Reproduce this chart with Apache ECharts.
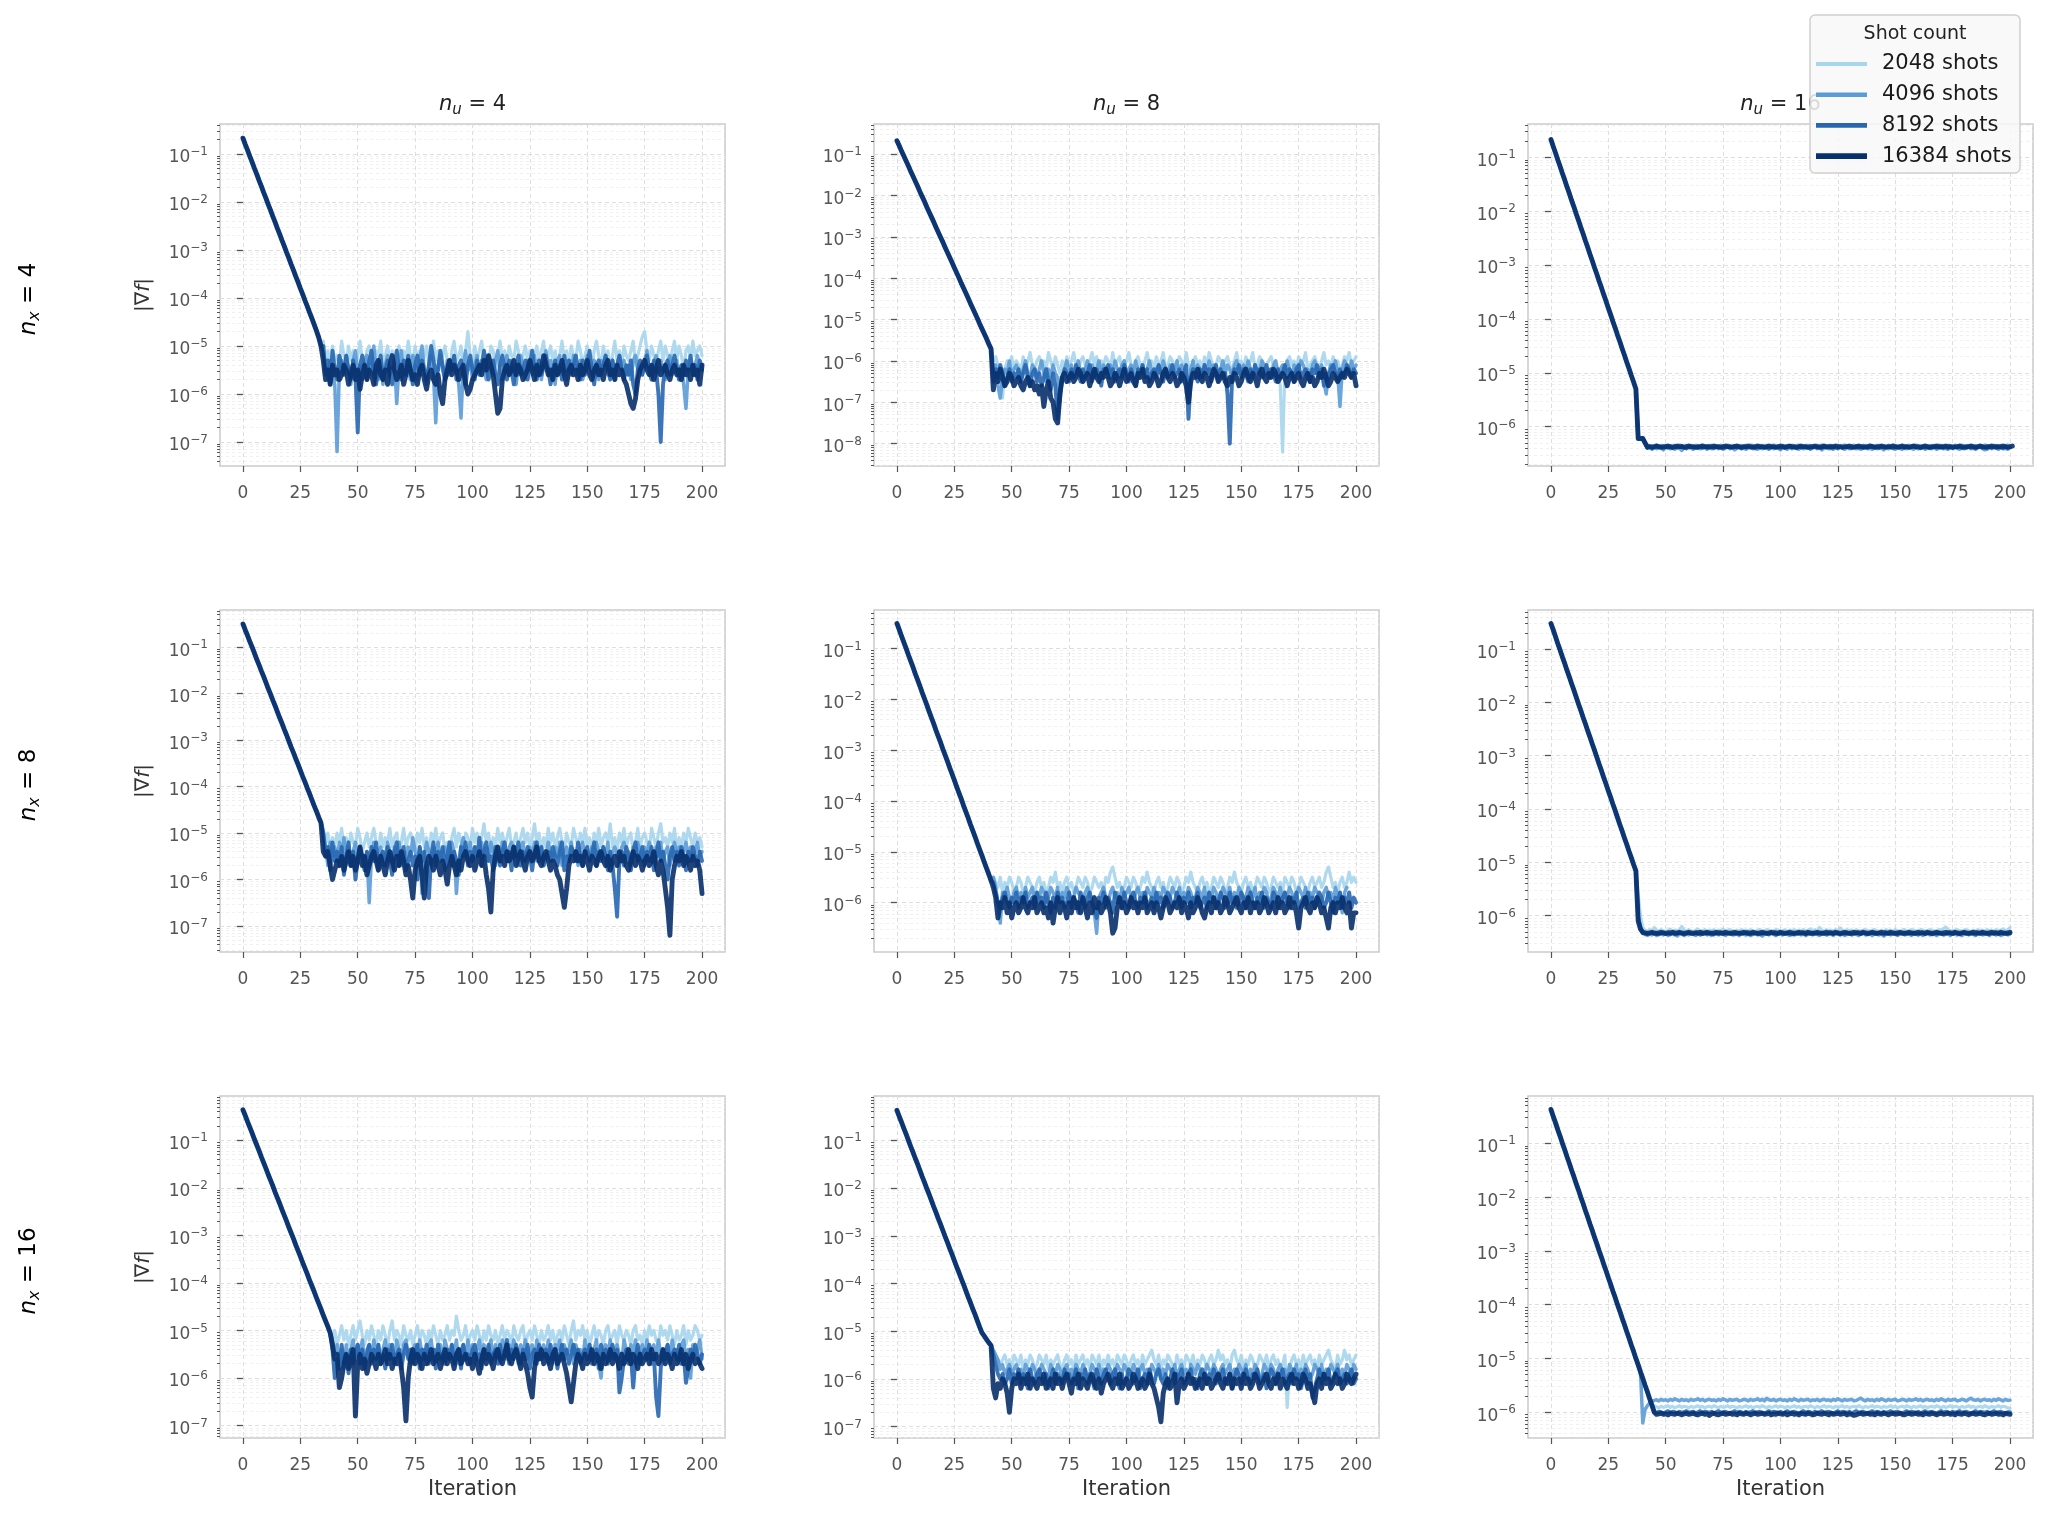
<!DOCTYPE html>
<html><head><meta charset="utf-8">
<script src="https://cdn.jsdelivr.net/npm/echarts@6/dist/echarts.min.js"></script>
<style>html,body{margin:0;padding:0;background:#fff}#chart{width:2046px;height:1513px}</style>
</head><body><div id="chart"></div>
<script>
// ---------------- labels ----------------
const iterationTicks = [0,25,50,75,100,125,150,175,200];
const shotLabels = ['2048 shots','4096 shots','8192 shots','16384 shots'];
const nuLabels = ['4','8','16'];
const nxLabels = ['4','8','16'];

// ---------------- data: log10(|grad f|) ----------------
// descent arrays: hundredths of a decade, iteration 0..len-1 (shared by all shot counts)
const d11 = [-67,-80,-92,-105,-117,-130,-142,-155,-167,-180,-192,-205,-217,-230,-242,-255,-267,-280,-292,-305,-317,-330,-342,-355,-367,-380,-392,-405,-417,-430,-442,-455,-468,-482,-500];
const d12 = [-68,-80,-93,-105,-117,-129,-142,-154,-166,-178,-191,-203,-215,-228,-240,-252,-264,-277,-289,-301,-313,-326,-338,-350,-362,-375,-387,-399,-412,-424,-436,-448,-461,-473,-485,-497,-510,-522,-534,-546,-559,-571];
const d13 = [-67,-80,-92,-105,-117,-130,-142,-155,-167,-180,-192,-205,-217,-230,-242,-255,-267,-280,-292,-305,-317,-330,-342,-355,-367,-380,-392,-405,-417,-430,-442,-455,-467,-480,-492,-505,-517,-530,-622,-622,-622,-630];
const d21 = [-50,-63,-75,-88,-100,-113,-126,-138,-151,-163,-176,-189,-201,-214,-226,-239,-252,-264,-277,-289,-302,-315,-327,-340,-352,-365,-378,-390,-403,-415,-428,-441,-453,-466,-478];
const d22 = [-51,-63,-76,-88,-100,-113,-125,-137,-150,-162,-174,-187,-199,-211,-224,-236,-248,-261,-273,-285,-298,-310,-322,-335,-347,-359,-372,-384,-396,-409,-421,-433,-446,-458,-470,-483,-495,-507,-520,-532,-544,-557];
const d23 = [-52,-64,-77,-90,-102,-115,-127,-140,-152,-165,-177,-190,-203,-215,-228,-240,-253,-265,-278,-290,-303,-316,-328,-341,-353,-366,-378,-391,-403,-416,-429,-441,-454,-466,-479,-491,-504,-516];
const d31 = [-36,-48,-61,-73,-85,-98,-110,-122,-135,-147,-159,-172,-184,-196,-209,-221,-233,-246,-258,-270,-283,-295,-307,-320,-332,-344,-357,-369,-381,-394,-406,-418,-431,-443,-455,-468,-480,-492,-505];
const d32 = [-37,-50,-62,-75,-87,-100,-113,-125,-138,-150,-163,-176,-188,-201,-213,-226,-239,-251,-264,-276,-289,-302,-314,-327,-339,-352,-365,-377,-390,-402,-415,-428,-440,-453,-465,-478,-491,-503,-510,-517,-524,-530];
const d33 = [-37,-50,-62,-75,-87,-100,-112,-125,-137,-150,-162,-175,-187,-200,-212,-225,-237,-250,-262,-275,-287,-300,-312,-325,-337,-350,-362,-375,-387,-400,-412,-425,-437,-450,-462,-475,-487,-500,-512,-525];

// tails (n_u = 4, 8 panels: tenths of a decade; n_u = 16 panels: hundredths)
const t11_2048 = [-49,-53,-51,-55,-50,-53,-52,-54,-49,-52,-54,-50,-53,-51,-55,-52,-49,-53,-54,-51,-50,-53,-55,-51,-52,-49,-54,-52,-50,-53,-51,-55,-52,-50,-54,-51,-53,-49,-52,-54,-50,-53,-51,-55,-52,-50,-54,-52,-49,-53,-51,-54,-52,-50,-53,-56,-51,-49,-53,-52,-50,-54,-51,-47,-52,-55,-50,-53,-51,-49,-53,-52,-54,-50,-51,-55,-52,-49,-53,-51,-54,-50,-52,-53,-49,-51,-54,-52,-50,-53,-51,-55,-52,-50,-53,-51,-49,-54,-52,-50,-53,-51,-55,-52,-49,-53,-51,-54,-50,-52,-53,-49,-51,-54,-52,-50,-53,-55,-51,-49,-52,-54,-50,-53,-51,-55,-52,-49,-53,-51,-54,-50,-52,-53,-51,-49,-54,-52,-50,-48,-47,-51,-53,-50,-52,-54,-51,-49,-53,-50,-52,-54,-51,-49,-53,-50,-52,-55,-51,-50,-53,-49,-52,-51,-50,-52];
const t11_4096 = [-51,-54,-57,-53,-56,-58,-72,-55,-53,-56,-52,-55,-58,-53,-51,-56,-54,-57,-53,-52,-56,-54,-50,-55,-57,-53,-58,-54,-52,-56,-55,-53,-62,-54,-51,-56,-53,-55,-57,-52,-54,-57,-53,-50,-55,-58,-54,-52,-56,-66,-54,-52,-55,-57,-53,-56,-54,-52,-55,-58,-65,-54,-51,-55,-53,-57,-54,-52,-56,-53,-55,-57,-52,-54,-56,-53,-51,-55,-57,-54,-52,-56,-53,-55,-58,-54,-52,-55,-57,-53,-54,-56,-52,-55,-53,-57,-54,-51,-56,-53,-55,-58,-53,-52,-56,-54,-57,-53,-55,-52,-56,-54,-53,-57,-55,-52,-54,-56,-53,-55,-57,-53,-54,-52,-56,-55,-53,-57,-54,-52,-55,-53,-56,-54,-57,-53,-52,-55,-54,-56,-53,-51,-55,-57,-54,-52,-56,-53,-55,-57,-54,-52,-56,-55,-53,-57,-54,-58,-63,-55,-53,-56,-54,-52,-55,-54];
const t11_8192 = [-50,-56,-53,-58,-51,-55,-57,-52,-54,-56,-52,-55,-57,-53,-56,-68,-54,-52,-55,-57,-53,-51,-56,-58,-54,-52,-57,-55,-53,-56,-58,-54,-51,-55,-57,-53,-56,-52,-55,-58,-54,-52,-56,-53,-55,-57,-54,-50,-53,-56,-55,-51,-54,-57,-56,-53,-55,-52,-57,-54,-53,-56,-58,-54,-52,-55,-57,-53,-56,-54,-51,-54,-57,-55,-53,-56,-58,-54,-52,-55,-57,-53,-55,-58,-54,-52,-56,-55,-53,-57,-54,-51,-55,-57,-53,-56,-54,-52,-55,-58,-55,-53,-56,-54,-57,-52,-55,-53,-56,-54,-52,-55,-57,-53,-56,-54,-51,-55,-58,-54,-53,-56,-54,-52,-55,-57,-53,-56,-54,-52,-55,-57,-54,-56,-53,-58,-60,-55,-53,-56,-54,-52,-55,-57,-53,-55,-60,-70,-58,-54,-53,-56,-54,-52,-55,-57,-54,-56,-53,-55,-52,-56,-54,-57,-53,-55];
const t11_16384 = [-53,-57,-55,-58,-54,-56,-55,-57,-56,-54,-55,-58,-56,-54,-57,-55,-59,-56,-54,-57,-55,-56,-58,-54,-53,-56,-57,-55,-58,-54,-52,-55,-57,-56,-54,-58,-56,-53,-55,-57,-56,-58,-55,-54,-57,-59,-56,-55,-57,-58,-56,-60,-62,-57,-55,-53,-56,-54,-55,-57,-55,-54,-58,-60,-59,-57,-56,-55,-54,-56,-53,-55,-52,-54,-56,-60,-64,-63,-57,-55,-54,-56,-55,-53,-56,-54,-55,-57,-56,-55,-53,-55,-57,-54,-56,-55,-52,-54,-56,-55,-57,-54,-56,-55,-53,-56,-58,-55,-54,-56,-55,-57,-54,-56,-55,-53,-56,-57,-55,-54,-56,-55,-57,-54,-53,-56,-55,-57,-54,-56,-55,-57,-58,-60,-62,-63,-61,-57,-55,-54,-53,-55,-56,-54,-57,-55,-53,-56,-55,-54,-56,-57,-55,-54,-56,-55,-57,-54,-56,-55,-57,-54,-56,-55,-58,-54];

const t12_2048 = [-60,-59,-61,-63,-69,-62,-60,-61,-59,-62,-60,-61,-63,-59,-62,-60,-58,-61,-62,-60,-59,-61,-60,-62,-58,-60,-62,-59,-61,-63,-60,-62,-59,-61,-60,-58,-61,-63,-60,-59,-61,-62,-60,-58,-61,-59,-62,-60,-61,-59,-60,-62,-58,-61,-60,-59,-62,-61,-60,-58,-61,-63,-60,-59,-61,-62,-60,-58,-61,-60,-62,-59,-61,-60,-58,-62,-61,-59,-60,-62,-61,-59,-60,-62,-58,-61,-63,-60,-59,-61,-60,-62,-59,-61,-58,-60,-62,-61,-59,-60,-62,-60,-59,-61,-63,-60,-58,-61,-60,-62,-59,-61,-60,-58,-62,-61,-59,-60,-62,-61,-60,-59,-61,-62,-63,-66,-82,-62,-60,-59,-61,-60,-62,-59,-61,-60,-58,-62,-61,-60,-59,-61,-62,-60,-58,-61,-60,-62,-59,-61,-60,-62,-61,-59,-60,-58,-61,-60,-59];
const t12_4096 = [-63,-61,-66,-69,-64,-62,-63,-60,-64,-62,-61,-63,-65,-62,-60,-63,-64,-61,-62,-64,-62,-60,-63,-65,-62,-64,-61,-63,-64,-70,-64,-62,-60,-63,-61,-64,-62,-60,-63,-65,-62,-60,-63,-61,-64,-62,-60,-63,-61,-62,-64,-61,-63,-60,-62,-64,-61,-60,-63,-62,-61,-63,-60,-62,-64,-61,-63,-62,-60,-63,-64,-62,-61,-63,-60,-62,-64,-61,-63,-62,-60,-63,-61,-62,-64,-66,-62,-60,-63,-61,-62,-64,-61,-63,-60,-62,-61,-63,-65,-62,-60,-63,-61,-62,-64,-61,-60,-63,-62,-61,-63,-60,-62,-64,-61,-63,-62,-60,-61,-63,-62,-64,-61,-60,-63,-62,-61,-63,-60,-62,-64,-61,-63,-62,-60,-61,-63,-62,-64,-61,-60,-63,-62,-61,-65,-68,-63,-61,-62,-60,-63,-71,-62,-60,-61,-63,-60,-62,-61];
const t12_8192 = [-65,-62,-64,-61,-63,-66,-64,-62,-65,-63,-64,-62,-65,-63,-61,-64,-66,-63,-62,-65,-63,-66,-64,-62,-65,-67,-63,-66,-74,-68,-64,-62,-63,-65,-62,-64,-61,-63,-65,-62,-64,-63,-61,-65,-63,-62,-64,-66,-62,-63,-61,-64,-62,-65,-63,-62,-64,-61,-63,-65,-62,-64,-66,-62,-63,-61,-64,-62,-65,-63,-62,-64,-61,-63,-65,-62,-64,-63,-61,-64,-63,-62,-65,-63,-61,-74,-64,-62,-63,-65,-62,-64,-61,-63,-62,-65,-63,-61,-64,-62,-64,-63,-68,-80,-64,-62,-63,-61,-64,-62,-63,-65,-62,-64,-61,-63,-62,-64,-63,-61,-64,-62,-63,-65,-62,-64,-63,-61,-64,-62,-63,-65,-62,-61,-64,-63,-62,-64,-65,-62,-63,-61,-64,-62,-66,-63,-64,-62,-61,-63,-65,-62,-64,-63,-61,-62,-64,-62,-63];
const t12_16384 = [-67,-63,-65,-62,-64,-66,-65,-63,-64,-66,-65,-64,-66,-67,-65,-64,-66,-65,-67,-66,-68,-66,-71,-67,-65,-69,-70,-74,-75,-68,-64,-63,-65,-64,-63,-65,-64,-62,-63,-65,-64,-63,-66,-64,-62,-64,-65,-63,-64,-62,-64,-66,-65,-63,-64,-66,-64,-62,-65,-64,-63,-65,-66,-63,-64,-62,-65,-64,-66,-65,-63,-64,-66,-65,-63,-62,-64,-65,-63,-64,-66,-65,-63,-64,-66,-70,-65,-63,-64,-62,-64,-65,-63,-64,-66,-64,-62,-63,-65,-64,-63,-65,-66,-64,-65,-63,-64,-66,-65,-63,-62,-64,-65,-63,-64,-66,-63,-62,-64,-65,-63,-64,-62,-63,-65,-64,-63,-64,-66,-64,-63,-65,-64,-63,-65,-66,-64,-63,-65,-64,-66,-65,-63,-64,-62,-64,-66,-65,-63,-64,-65,-64,-63,-64,-62,-63,-64,-63,-66];

const t13_2048 = [-634,-636,-635,-637,-633,-636,-635,-637,-634,-636,-635,-637,-634,-636,-633,-635,-637,-636,-634,-635,-637,-634,-636,-635,-633,-636,-637,-635,-634,-636,-635,-637,-634,-636,-635,-633,-636,-637,-635,-634,-636,-635,-637,-634,-636,-633,-635,-637,-636,-634,-635,-637,-634,-636,-635,-633,-636,-637,-635,-634,-636,-635,-637,-634,-636,-635,-633,-636,-637,-635,-634,-636,-635,-637,-634,-636,-633,-635,-637,-636,-634,-635,-637,-634,-636,-635,-633,-636,-637,-635,-634,-636,-635,-637,-634,-636,-635,-633,-636,-637,-635,-634,-636,-635,-637,-634,-636,-633,-635,-637,-636,-634,-635,-637,-634,-636,-635,-633,-636,-637,-635,-634,-636,-635,-637,-634,-636,-633,-635,-637,-636,-634,-635,-637,-634,-636,-635,-633,-636,-637,-635,-634,-636,-635,-637,-634,-636,-633,-635,-637,-636,-634,-635,-637,-634,-636,-635,-633,-636];
const t13_4096 = [-640,-638,-642,-639,-641,-637,-640,-643,-639,-638,-641,-639,-642,-638,-640,-644,-639,-641,-638,-640,-642,-639,-637,-641,-640,-638,-642,-639,-641,-640,-638,-641,-639,-642,-640,-637,-641,-639,-643,-640,-638,-641,-640,-642,-639,-638,-641,-640,-642,-639,-641,-638,-640,-642,-639,-641,-638,-640,-643,-639,-640,-642,-638,-641,-639,-640,-642,-638,-641,-640,-639,-642,-640,-638,-641,-639,-643,-640,-638,-641,-640,-642,-639,-641,-638,-640,-642,-639,-641,-640,-638,-641,-640,-642,-639,-638,-641,-640,-642,-639,-641,-638,-640,-643,-639,-641,-638,-640,-642,-639,-640,-642,-638,-641,-639,-640,-642,-638,-641,-640,-639,-642,-640,-638,-641,-639,-642,-640,-638,-641,-640,-642,-639,-641,-638,-640,-642,-639,-641,-640,-638,-641,-640,-642,-639,-638,-641,-643,-642,-639,-641,-638,-640,-642,-639,-641,-640,-642,-639];
const t13_8192 = [-639,-637,-640,-638,-636,-639,-638,-640,-637,-639,-638,-640,-637,-639,-638,-636,-639,-640,-638,-637,-639,-638,-640,-637,-639,-638,-636,-639,-638,-640,-637,-639,-638,-640,-638,-637,-639,-638,-636,-639,-638,-640,-637,-639,-638,-639,-637,-640,-638,-639,-637,-639,-638,-640,-638,-637,-639,-638,-640,-637,-639,-638,-636,-639,-638,-640,-637,-639,-638,-637,-639,-640,-638,-637,-639,-638,-640,-637,-639,-638,-636,-639,-638,-640,-637,-639,-638,-637,-639,-640,-638,-637,-639,-638,-640,-637,-639,-638,-636,-639,-638,-640,-637,-639,-638,-637,-639,-640,-638,-637,-639,-638,-640,-637,-639,-638,-636,-639,-638,-640,-637,-639,-638,-640,-638,-637,-639,-638,-636,-639,-638,-640,-637,-639,-638,-639,-637,-640,-638,-639,-637,-639,-638,-640,-638,-637,-639,-638,-640,-637,-639,-638,-636,-639,-638,-640,-637,-639,-638];
const t13_16384 = [-638,-637,-638,-637,-636,-637,-638,-637,-637,-636,-637,-638,-637,-636,-637,-637,-638,-637,-636,-637,-637,-638,-637,-637,-636,-637,-638,-637,-637,-636,-637,-637,-638,-637,-636,-637,-637,-638,-637,-636,-637,-638,-637,-637,-636,-637,-638,-637,-636,-637,-637,-638,-637,-636,-637,-637,-638,-637,-636,-637,-638,-637,-636,-637,-637,-638,-637,-636,-637,-637,-638,-637,-637,-636,-637,-638,-637,-636,-637,-637,-638,-637,-636,-637,-637,-638,-637,-637,-636,-637,-638,-637,-636,-637,-637,-638,-637,-636,-637,-638,-637,-637,-636,-637,-638,-637,-637,-636,-637,-638,-637,-636,-637,-637,-638,-637,-636,-637,-637,-638,-637,-636,-637,-638,-637,-637,-636,-637,-638,-637,-636,-637,-637,-638,-637,-637,-636,-637,-638,-637,-637,-636,-637,-638,-637,-636,-637,-638,-637,-637,-636,-637,-638,-637,-637,-636,-637,-638,-637,-636];

const t21_2048 = [-49,-52,-50,-54,-51,-53,-50,-52,-49,-53,-51,-54,-50,-52,-53,-49,-51,-54,-52,-50,-53,-51,-49,-52,-54,-50,-53,-51,-52,-49,-53,-51,-50,-54,-52,-49,-53,-51,-50,-52,-54,-50,-52,-49,-53,-51,-55,-50,-52,-49,-53,-51,-50,-54,-52,-56,-51,-49,-53,-50,-52,-54,-50,-51,-53,-49,-52,-50,-53,-51,-48,-52,-50,-54,-51,-53,-49,-52,-50,-53,-51,-49,-53,-52,-50,-54,-51,-49,-52,-50,-53,-51,-48,-52,-50,-54,-51,-53,-49,-52,-50,-53,-51,-49,-52,-54,-50,-52,-53,-49,-51,-53,-50,-52,-49,-53,-51,-54,-50,-52,-49,-53,-51,-50,-52,-48,-53,-51,-54,-50,-52,-49,-53,-51,-50,-54,-52,-49,-53,-51,-50,-52,-54,-49,-51,-53,-50,-48,-52,-51,-53,-50,-52,-49,-54,-51,-53,-50,-52,-49,-51,-53,-50,-52,-51,-53];
const t21_4096 = [-50,-53,-57,-52,-55,-53,-56,-52,-54,-51,-55,-53,-57,-54,-52,-56,-53,-55,-58,-54,-65,-55,-52,-56,-54,-53,-57,-55,-52,-54,-56,-53,-55,-52,-57,-54,-56,-53,-55,-51,-54,-56,-53,-63,-55,-52,-54,-57,-53,-55,-52,-56,-54,-53,-57,-55,-52,-54,-63,-56,-53,-51,-55,-54,-52,-56,-53,-55,-54,-52,-55,-53,-56,-52,-54,-57,-53,-55,-52,-54,-56,-53,-52,-55,-54,-57,-53,-52,-56,-54,-53,-55,-52,-56,-54,-53,-57,-55,-52,-54,-56,-53,-55,-52,-57,-54,-53,-56,-52,-55,-54,-57,-53,-52,-55,-54,-56,-53,-55,-52,-54,-56,-53,-55,-52,-57,-54,-53,-55,-56,-53,-52,-55,-54,-57,-53,-55,-52,-54,-56,-53,-55,-52,-54,-57,-53,-55,-52,-56,-54,-53,-57,-54,-52,-55,-53,-56,-54,-52,-55,-53,-56,-54,-52,-55,-54];
const t21_8192 = [-50,-55,-53,-58,-52,-56,-54,-57,-53,-59,-55,-52,-57,-54,-60,-56,-53,-55,-58,-54,-57,-53,-56,-52,-58,-55,-54,-57,-53,-56,-59,-54,-52,-57,-55,-53,-58,-56,-54,-57,-55,-60,-53,-56,-54,-58,-64,-55,-52,-57,-54,-56,-53,-58,-55,-52,-57,-54,-56,-59,-53,-55,-52,-57,-54,-56,-53,-55,-51,-57,-54,-52,-56,-55,-58,-53,-55,-57,-54,-52,-56,-54,-58,-53,-55,-52,-57,-54,-56,-53,-55,-58,-54,-52,-56,-53,-57,-55,-54,-56,-53,-55,-57,-54,-52,-58,-55,-56,-53,-54,-56,-52,-55,-57,-54,-53,-56,-55,-52,-57,-54,-56,-53,-55,-58,-54,-57,-62,-68,-56,-54,-57,-53,-55,-58,-54,-52,-56,-55,-53,-57,-54,-56,-53,-58,-55,-52,-56,-54,-57,-60,-55,-53,-56,-54,-57,-53,-55,-58,-54,-56,-53,-55,-57,-54,-56];
const t21_16384 = [-54,-55,-54,-57,-60,-58,-56,-57,-55,-58,-56,-54,-57,-55,-58,-56,-53,-57,-55,-59,-57,-55,-54,-56,-58,-55,-57,-59,-56,-54,-56,-58,-55,-57,-54,-56,-59,-57,-60,-64,-58,-56,-55,-59,-64,-57,-55,-56,-58,-55,-57,-59,-56,-58,-61,-57,-55,-57,-59,-56,-58,-55,-54,-56,-57,-55,-58,-56,-54,-57,-55,-59,-62,-67,-58,-55,-53,-56,-55,-57,-54,-56,-55,-53,-57,-55,-54,-56,-58,-55,-54,-56,-55,-53,-56,-57,-55,-54,-56,-58,-56,-57,-59,-60,-63,-66,-62,-57,-55,-56,-54,-56,-55,-57,-54,-56,-58,-55,-56,-57,-55,-54,-56,-57,-55,-58,-56,-55,-57,-54,-56,-55,-57,-58,-56,-54,-57,-55,-56,-58,-56,-55,-57,-56,-54,-57,-59,-56,-58,-62,-66,-72,-60,-57,-55,-56,-54,-57,-55,-56,-58,-55,-57,-56,-58,-63];

const t22_2048 = [-55,-56,-57,-55,-58,-56,-57,-55,-56,-58,-57,-55,-56,-58,-57,-55,-56,-57,-58,-56,-55,-57,-56,-58,-57,-55,-56,-54,-57,-56,-58,-56,-55,-57,-56,-58,-57,-55,-56,-57,-55,-56,-58,-57,-55,-56,-57,-56,-58,-55,-56,-54,-53,-55,-57,-56,-58,-57,-55,-56,-57,-55,-56,-58,-57,-55,-56,-54,-56,-57,-58,-56,-55,-57,-56,-58,-57,-55,-56,-57,-55,-56,-58,-57,-55,-56,-54,-56,-57,-58,-56,-55,-57,-56,-58,-57,-55,-56,-57,-55,-56,-58,-57,-55,-56,-54,-56,-57,-58,-56,-55,-57,-56,-58,-57,-55,-56,-57,-55,-56,-58,-57,-55,-56,-57,-56,-58,-55,-56,-57,-55,-56,-58,-57,-55,-56,-57,-58,-56,-55,-57,-56,-55,-57,-56,-54,-53,-55,-57,-56,-58,-56,-55,-57,-56,-54,-56,-55,-56];
const t22_4096 = [-55,-57,-60,-64,-58,-59,-57,-59,-60,-58,-57,-59,-58,-60,-57,-59,-58,-57,-60,-58,-59,-57,-58,-60,-59,-57,-58,-59,-57,-60,-58,-59,-57,-58,-60,-59,-57,-58,-59,-60,-58,-57,-59,-60,-62,-66,-59,-58,-57,-59,-60,-58,-57,-59,-58,-60,-57,-59,-58,-57,-59,-60,-58,-57,-59,-58,-60,-57,-58,-59,-57,-60,-58,-59,-57,-58,-60,-59,-57,-58,-59,-57,-60,-58,-59,-57,-58,-60,-59,-57,-58,-59,-57,-60,-58,-59,-57,-58,-60,-59,-57,-58,-59,-57,-60,-58,-59,-57,-58,-60,-59,-57,-58,-59,-57,-60,-58,-59,-57,-58,-60,-59,-57,-58,-59,-57,-60,-58,-59,-57,-58,-60,-59,-57,-58,-59,-57,-60,-58,-59,-57,-58,-59,-60,-58,-57,-59,-58,-60,-57,-59,-58,-62,-58,-57];
const t22_8192 = [-56,-58,-60,-61,-59,-58,-60,-61,-59,-60,-58,-61,-59,-60,-58,-61,-60,-59,-61,-58,-60,-59,-61,-58,-60,-62,-59,-61,-58,-60,-59,-61,-60,-58,-61,-59,-60,-62,-58,-60,-61,-59,-58,-60,-61,-63,-59,-60,-58,-61,-59,-60,-62,-58,-60,-59,-61,-58,-60,-61,-59,-58,-60,-61,-59,-60,-58,-61,-60,-59,-61,-58,-60,-59,-61,-60,-58,-59,-61,-60,-58,-60,-61,-59,-60,-58,-61,-59,-60,-58,-61,-60,-59,-61,-58,-60,-59,-61,-60,-58,-59,-61,-60,-58,-60,-59,-61,-60,-58,-59,-61,-60,-58,-60,-61,-59,-60,-58,-61,-59,-60,-61,-58,-59,-61,-60,-59,-58,-60,-61,-59,-60,-58,-61,-60,-59,-61,-58,-60,-59,-61,-60,-58,-59,-61,-60,-58,-60,-62,-59,-60,-58,-61,-59,-60,-58,-61,-59,-60];
const t22_16384 = [-57,-59,-63,-60,-61,-59,-62,-60,-63,-61,-60,-62,-61,-59,-61,-62,-60,-61,-59,-62,-61,-60,-62,-61,-63,-60,-64,-61,-59,-62,-60,-61,-63,-60,-62,-59,-61,-60,-62,-59,-61,-63,-60,-62,-59,-61,-60,-62,-61,-59,-60,-62,-66,-65,-61,-59,-61,-60,-62,-61,-59,-61,-60,-62,-60,-61,-59,-62,-61,-60,-62,-60,-61,-63,-61,-59,-60,-62,-61,-60,-61,-59,-62,-60,-61,-63,-60,-62,-61,-59,-60,-62,-63,-61,-60,-62,-59,-61,-60,-62,-61,-59,-60,-62,-61,-60,-59,-61,-62,-60,-61,-59,-62,-60,-61,-60,-62,-61,-59,-60,-62,-61,-60,-62,-59,-61,-60,-62,-61,-59,-61,-60,-62,-65,-61,-60,-59,-61,-62,-60,-61,-59,-60,-62,-61,-63,-65,-61,-60,-62,-60,-61,-59,-61,-62,-60,-65,-62,-62];

const t23_2048 = [-560,-600,-622,-627,-629,-626,-628,-622,-627,-629,-626,-628,-630,-627,-625,-629,-627,-628,-626,-620,-627,-629,-626,-628,-630,-627,-625,-629,-628,-626,-629,-627,-628,-626,-630,-627,-628,-625,-629,-627,-626,-628,-630,-627,-629,-626,-628,-627,-629,-626,-628,-630,-627,-626,-629,-628,-626,-627,-629,-628,-626,-627,-629,-628,-626,-630,-627,-628,-626,-629,-627,-628,-626,-629,-627,-625,-628,-626,-629,-622,-627,-629,-626,-628,-627,-629,-626,-628,-623,-627,-629,-626,-628,-627,-630,-626,-628,-629,-627,-626,-628,-629,-627,-626,-628,-630,-627,-629,-626,-628,-627,-629,-626,-628,-630,-627,-626,-629,-628,-626,-627,-629,-628,-626,-627,-629,-628,-626,-627,-629,-628,-626,-627,-624,-621,-626,-628,-629,-627,-626,-628,-629,-627,-626,-628,-630,-627,-629,-626,-628,-627,-629,-626,-628,-627,-629,-626,-628,-627,-625,-628,-626,-622];
const t23_4096 = [-600,-622,-633,-635,-637,-634,-636,-633,-637,-635,-634,-636,-633,-637,-635,-634,-636,-638,-634,-635,-637,-634,-636,-633,-635,-637,-634,-636,-635,-633,-636,-634,-637,-635,-633,-636,-634,-635,-637,-634,-633,-636,-635,-634,-637,-633,-635,-636,-634,-637,-635,-633,-636,-634,-638,-635,-634,-636,-633,-635,-637,-634,-635,-636,-633,-635,-637,-634,-636,-635,-633,-636,-634,-637,-635,-633,-636,-634,-635,-637,-634,-633,-636,-635,-634,-637,-633,-635,-636,-634,-637,-635,-633,-636,-634,-635,-637,-634,-633,-636,-635,-634,-637,-633,-635,-636,-634,-638,-635,-633,-636,-634,-635,-637,-634,-633,-636,-635,-634,-637,-633,-635,-636,-634,-637,-635,-633,-636,-634,-635,-637,-634,-633,-636,-635,-634,-637,-633,-635,-636,-634,-637,-635,-633,-636,-634,-635,-637,-634,-633,-636,-635,-634,-637,-633,-635,-636,-634,-637,-635,-633,-636,-634];
const t23_8192 = [-605,-624,-632,-633,-634,-633,-632,-634,-633,-635,-633,-632,-634,-633,-635,-632,-633,-634,-632,-633,-635,-633,-632,-634,-633,-632,-634,-635,-633,-632,-634,-633,-632,-635,-633,-634,-632,-633,-634,-633,-632,-634,-635,-633,-632,-634,-633,-632,-635,-633,-634,-632,-633,-635,-634,-632,-633,-634,-632,-633,-635,-633,-632,-634,-633,-632,-634,-635,-633,-632,-634,-633,-632,-635,-633,-634,-632,-633,-634,-633,-632,-634,-635,-633,-632,-634,-633,-632,-635,-633,-634,-632,-633,-635,-634,-632,-633,-634,-632,-633,-635,-633,-632,-634,-633,-632,-634,-635,-633,-632,-634,-633,-632,-635,-633,-634,-632,-633,-634,-633,-632,-634,-635,-633,-632,-634,-633,-632,-635,-633,-634,-632,-633,-635,-634,-632,-633,-634,-632,-633,-635,-633,-632,-634,-633,-632,-634,-635,-633,-632,-634,-633,-632,-635,-633,-634,-632,-633,-634,-633,-632,-634,-633];
const t23_16384 = [-610,-625,-631,-632,-633,-632,-631,-632,-633,-632,-631,-632,-633,-632,-632,-631,-633,-632,-631,-632,-633,-632,-631,-632,-633,-632,-632,-631,-633,-632,-631,-632,-633,-632,-631,-632,-632,-633,-631,-632,-633,-632,-631,-632,-633,-632,-631,-632,-632,-633,-631,-632,-633,-632,-631,-632,-633,-632,-631,-632,-632,-633,-631,-632,-633,-632,-631,-632,-633,-632,-631,-632,-632,-633,-631,-632,-633,-632,-631,-632,-633,-632,-631,-632,-632,-633,-631,-632,-633,-632,-631,-632,-633,-632,-631,-632,-632,-633,-631,-632,-633,-632,-631,-632,-633,-632,-631,-632,-632,-633,-631,-632,-633,-632,-631,-632,-633,-632,-631,-632,-633,-632,-631,-632,-632,-633,-631,-632,-633,-632,-631,-632,-633,-632,-631,-632,-632,-633,-631,-632,-633,-632,-631,-632,-633,-632,-631,-632,-632,-633,-631,-632,-633,-632,-631,-632,-632,-633,-631,-632,-633,-632,-631];

const t31_2048 = [-52,-50,-53,-51,-49,-52,-50,-53,-51,-49,-52,-50,-48,-51,-53,-50,-52,-49,-51,-53,-50,-52,-49,-51,-53,-50,-48,-52,-50,-51,-53,-49,-51,-52,-50,-53,-51,-49,-52,-50,-51,-53,-50,-52,-49,-51,-53,-50,-52,-51,-49,-52,-50,-51,-47,-50,-52,-51,-49,-53,-51,-50,-52,-49,-51,-53,-50,-52,-49,-51,-52,-50,-53,-51,-49,-52,-50,-51,-53,-49,-51,-52,-50,-49,-53,-51,-50,-52,-49,-51,-53,-50,-52,-51,-49,-52,-50,-53,-51,-50,-52,-49,-51,-53,-50,-48,-52,-50,-51,-49,-52,-50,-53,-51,-49,-52,-50,-51,-53,-50,-49,-52,-51,-50,-53,-49,-51,-52,-50,-51,-53,-50,-49,-52,-51,-53,-50,-52,-49,-51,-50,-52,-53,-49,-51,-50,-52,-49,-51,-53,-50,-52,-51,-49,-53,-50,-52,-51,-49,-50,-52,-51];
const t31_4096 = [-52,-55,-53,-57,-54,-58,-53,-56,-54,-52,-56,-53,-55,-52,-57,-54,-53,-56,-52,-55,-53,-57,-54,-52,-56,-53,-55,-57,-52,-54,-56,-53,-52,-55,-57,-54,-53,-56,-52,-55,-54,-57,-53,-52,-56,-54,-55,-53,-57,-52,-54,-56,-53,-55,-52,-57,-54,-53,-56,-52,-55,-53,-57,-54,-52,-56,-53,-55,-54,-52,-56,-53,-55,-57,-52,-54,-56,-53,-55,-52,-54,-57,-53,-55,-52,-56,-54,-53,-57,-52,-55,-54,-53,-56,-52,-55,-57,-53,-54,-52,-56,-53,-55,-54,-52,-57,-53,-55,-54,-56,-52,-55,-53,-56,-54,-52,-57,-60,-54,-53,-55,-52,-56,-54,-53,-55,-57,-52,-54,-56,-53,-55,-52,-57,-54,-53,-56,-52,-55,-54,-53,-56,-52,-55,-57,-54,-53,-56,-52,-55,-54,-57,-53,-52,-56,-54,-60,-53,-55,-54,-52,-56];
const t31_8192 = [-54,-60,-56,-58,-53,-57,-55,-59,-54,-57,-55,-53,-57,-54,-58,-55,-53,-57,-54,-56,-53,-57,-55,-58,-54,-56,-53,-57,-55,-54,-58,-55,-53,-56,-54,-57,-55,-53,-58,-54,-56,-53,-57,-55,-54,-58,-53,-56,-55,-57,-54,-56,-53,-57,-55,-54,-58,-53,-56,-55,-57,-54,-53,-56,-55,-58,-54,-56,-53,-57,-55,-54,-57,-53,-56,-55,-52,-57,-54,-56,-53,-55,-57,-54,-56,-53,-58,-55,-54,-57,-53,-56,-55,-54,-57,-53,-56,-54,-58,-55,-53,-56,-54,-57,-55,-53,-56,-54,-57,-55,-54,-56,-53,-57,-55,-54,-58,-53,-56,-54,-57,-55,-53,-56,-54,-63,-60,-56,-54,-57,-55,-62,-56,-53,-57,-55,-54,-56,-53,-57,-55,-64,-68,-58,-54,-56,-53,-57,-55,-54,-56,-53,-57,-55,-61,-58,-54,-56,-53,-55,-57,-55];
const t31_16384 = [-53,-56,-55,-62,-60,-57,-55,-58,-56,-54,-68,-57,-55,-58,-56,-59,-57,-55,-56,-58,-55,-57,-56,-54,-57,-55,-58,-56,-57,-55,-58,-62,-69,-60,-56,-54,-57,-55,-56,-58,-55,-57,-56,-54,-57,-56,-55,-58,-56,-54,-57,-55,-56,-58,-55,-54,-57,-56,-55,-57,-56,-58,-55,-57,-59,-56,-54,-57,-55,-56,-58,-55,-54,-56,-57,-55,-53,-56,-57,-55,-54,-56,-58,-55,-57,-59,-62,-64,-58,-55,-56,-54,-57,-55,-56,-58,-55,-54,-57,-56,-55,-57,-59,-62,-65,-61,-57,-55,-56,-58,-55,-57,-56,-54,-57,-55,-56,-58,-55,-57,-56,-54,-57,-55,-56,-58,-55,-57,-56,-54,-57,-55,-56,-58,-55,-57,-56,-55,-57,-54,-56,-55,-57,-56,-54,-57,-55,-56,-58,-55,-57,-56,-54,-57,-55,-58,-56,-55,-57,-56,-57,-58];

const t32_2048 = [-54,-55,-56,-57,-56,-55,-57,-56,-58,-55,-56,-57,-55,-58,-56,-57,-55,-56,-58,-57,-55,-56,-57,-55,-58,-56,-57,-56,-55,-57,-58,-56,-55,-57,-56,-58,-55,-57,-56,-55,-57,-56,-58,-55,-56,-57,-55,-58,-56,-57,-55,-57,-56,-58,-55,-56,-57,-55,-56,-58,-56,-55,-57,-56,-58,-55,-57,-56,-55,-54,-56,-57,-55,-58,-56,-57,-55,-56,-57,-58,-55,-57,-56,-58,-55,-56,-57,-55,-58,-56,-57,-55,-56,-58,-56,-55,-57,-56,-54,-56,-55,-57,-56,-58,-55,-54,-56,-57,-55,-58,-56,-57,-55,-56,-58,-57,-55,-56,-57,-55,-58,-56,-55,-57,-56,-58,-57,-55,-66,-58,-56,-55,-57,-56,-58,-55,-57,-56,-55,-57,-56,-58,-55,-57,-56,-55,-54,-56,-57,-58,-55,-57,-56,-54,-56,-55,-57,-56,-55];
const t32_4096 = [-54,-55,-56,-58,-57,-59,-58,-57,-59,-58,-57,-59,-58,-60,-57,-58,-59,-57,-58,-60,-59,-57,-58,-59,-60,-57,-58,-59,-57,-58,-60,-58,-57,-59,-58,-60,-57,-58,-59,-57,-58,-60,-59,-57,-58,-59,-57,-60,-58,-59,-57,-58,-60,-59,-57,-58,-59,-57,-58,-60,-59,-57,-58,-60,-58,-57,-59,-58,-60,-57,-58,-59,-57,-60,-58,-59,-57,-58,-59,-57,-60,-58,-57,-59,-58,-60,-57,-58,-59,-57,-58,-60,-59,-57,-58,-59,-57,-58,-60,-58,-57,-59,-58,-57,-60,-58,-59,-57,-58,-59,-57,-60,-58,-59,-57,-58,-60,-59,-57,-58,-59,-57,-58,-60,-58,-57,-59,-58,-60,-57,-58,-59,-57,-60,-58,-59,-57,-58,-60,-59,-57,-58,-59,-57,-60,-58,-59,-57,-58,-59,-57,-60,-58,-59,-57,-58,-60,-57,-58];
const t32_8192 = [-55,-57,-59,-60,-59,-61,-60,-58,-61,-59,-60,-58,-61,-59,-60,-62,-58,-60,-61,-59,-58,-60,-61,-59,-62,-60,-58,-61,-59,-60,-61,-58,-60,-59,-61,-60,-58,-62,-59,-60,-58,-61,-59,-60,-62,-58,-60,-61,-59,-58,-60,-61,-59,-58,-60,-62,-59,-61,-60,-58,-59,-61,-60,-58,-62,-60,-59,-61,-58,-60,-61,-59,-58,-60,-61,-59,-62,-60,-58,-61,-59,-60,-58,-61,-60,-59,-58,-61,-60,-62,-59,-58,-60,-61,-59,-60,-58,-61,-59,-60,-58,-61,-60,-59,-62,-60,-58,-59,-61,-60,-58,-60,-61,-59,-60,-58,-61,-60,-59,-62,-60,-58,-59,-61,-60,-59,-58,-61,-60,-59,-61,-58,-60,-59,-62,-60,-58,-61,-59,-64,-62,-60,-58,-61,-59,-60,-58,-61,-60,-59,-58,-61,-60,-59,-61,-60,-58,-61,-60];
const t32_16384 = [-62,-64,-61,-62,-60,-61,-63,-67,-62,-60,-61,-59,-62,-60,-61,-59,-62,-60,-61,-62,-60,-61,-59,-62,-61,-60,-62,-59,-61,-60,-62,-60,-59,-61,-63,-60,-61,-59,-62,-60,-61,-62,-60,-59,-61,-62,-60,-63,-61,-60,-59,-61,-62,-60,-61,-59,-62,-61,-60,-62,-61,-59,-60,-62,-61,-60,-62,-61,-59,-61,-62,-64,-66,-69,-63,-61,-60,-62,-61,-59,-65,-61,-60,-62,-61,-59,-61,-60,-62,-61,-60,-62,-59,-61,-60,-62,-61,-60,-59,-61,-62,-60,-61,-59,-62,-60,-61,-60,-62,-59,-61,-60,-62,-61,-59,-60,-62,-61,-60,-59,-61,-62,-60,-61,-59,-62,-60,-61,-62,-60,-59,-61,-60,-62,-61,-59,-60,-62,-61,-63,-65,-61,-60,-62,-59,-61,-60,-62,-61,-59,-61,-60,-62,-61,-59,-60,-61,-60,-59];

const t33_2048 = [-537,-550,-562,-575,-585,-589,-590,-592,-589,-591,-590,-588,-591,-589,-592,-590,-588,-591,-589,-590,-592,-589,-591,-590,-588,-591,-589,-592,-590,-589,-591,-588,-590,-592,-589,-591,-590,-588,-591,-589,-590,-592,-589,-591,-590,-588,-591,-589,-592,-590,-589,-591,-588,-590,-592,-589,-591,-590,-588,-591,-589,-590,-592,-589,-591,-590,-588,-591,-589,-592,-590,-589,-591,-588,-590,-592,-589,-591,-590,-588,-591,-589,-590,-592,-589,-591,-590,-588,-591,-589,-592,-590,-589,-591,-588,-590,-592,-589,-591,-590,-588,-591,-589,-590,-592,-589,-591,-590,-588,-591,-589,-592,-590,-589,-591,-588,-590,-592,-589,-591,-590,-588,-591,-589,-592,-590,-589,-591,-588,-590,-592,-589,-591,-590,-588,-591,-589,-590,-592,-589,-591,-590,-588,-591,-589,-592,-590,-589,-591,-588,-590,-592,-589,-591,-590,-588,-591,-589,-590,-592,-593];
const t33_4096 = [-620,-595,-588,-583,-580,-578,-577,-579,-576,-578,-577,-579,-576,-578,-575,-577,-579,-576,-578,-577,-579,-576,-578,-577,-575,-578,-576,-579,-577,-576,-578,-577,-579,-576,-578,-575,-577,-579,-576,-578,-577,-576,-579,-578,-576,-577,-579,-576,-578,-577,-575,-578,-576,-579,-574,-577,-578,-576,-579,-577,-576,-578,-577,-579,-576,-578,-575,-577,-579,-576,-578,-577,-576,-579,-577,-578,-576,-579,-577,-576,-578,-577,-579,-576,-578,-575,-577,-579,-576,-578,-577,-576,-579,-578,-576,-574,-577,-579,-576,-578,-577,-579,-576,-578,-575,-577,-579,-576,-578,-577,-576,-579,-578,-576,-577,-579,-576,-578,-577,-575,-578,-576,-579,-577,-576,-578,-577,-579,-576,-578,-575,-577,-579,-576,-578,-577,-576,-579,-578,-576,-577,-579,-576,-574,-577,-578,-576,-579,-577,-576,-578,-577,-579,-576,-578,-575,-577,-579,-576,-578,-578];
const t33_8192 = [-537,-550,-562,-575,-587,-600,-601,-599,-600,-602,-600,-598,-601,-599,-600,-602,-599,-601,-600,-598,-601,-600,-599,-602,-600,-598,-601,-599,-600,-601,-599,-602,-600,-598,-601,-600,-599,-601,-602,-600,-598,-601,-599,-600,-602,-599,-601,-600,-598,-601,-600,-599,-601,-602,-600,-598,-601,-599,-600,-601,-599,-602,-600,-598,-601,-600,-599,-601,-602,-600,-598,-601,-599,-600,-602,-599,-601,-600,-598,-601,-600,-599,-601,-602,-600,-598,-601,-599,-600,-601,-599,-602,-600,-598,-601,-600,-599,-601,-602,-600,-598,-601,-599,-600,-602,-599,-601,-600,-598,-601,-600,-599,-601,-602,-600,-598,-601,-599,-600,-601,-599,-602,-600,-598,-601,-600,-599,-601,-602,-600,-598,-601,-599,-600,-602,-599,-601,-600,-598,-601,-600,-599,-601,-602,-600,-598,-601,-599,-600,-601,-599,-602,-600,-598,-601,-600,-599,-601,-602,-600,-600];
const t33_16384 = [-537,-550,-562,-575,-587,-600,-604,-603,-602,-604,-603,-605,-602,-603,-604,-602,-603,-605,-603,-602,-604,-603,-602,-604,-605,-603,-602,-604,-603,-606,-603,-602,-604,-605,-603,-602,-604,-603,-602,-604,-603,-605,-602,-603,-604,-602,-603,-605,-603,-602,-604,-603,-602,-604,-603,-602,-605,-603,-604,-602,-603,-604,-602,-605,-603,-602,-604,-603,-605,-602,-603,-604,-602,-603,-605,-604,-602,-603,-604,-602,-603,-605,-602,-604,-603,-602,-604,-603,-602,-605,-603,-604,-606,-605,-603,-602,-604,-603,-602,-604,-603,-605,-602,-603,-604,-602,-603,-605,-603,-602,-604,-603,-602,-604,-605,-603,-602,-604,-603,-602,-604,-603,-605,-602,-603,-604,-602,-603,-605,-603,-602,-604,-603,-602,-604,-603,-605,-602,-603,-604,-602,-603,-605,-603,-602,-604,-603,-602,-604,-605,-603,-602,-604,-603,-602,-604,-603,-605,-602,-603,-604];

// ---------------- panel assembly ----------------
const panels = [
  {row:0,col:0,descent:d11,tails:[t11_2048,t11_4096,t11_8192,t11_16384],unit:10, yMin:-7.5, yMax:-0.375},
  {row:0,col:1,descent:d12,tails:[t12_2048,t12_4096,t12_8192,t12_16384],unit:10, yMin:-8.54,yMax:-0.275},
  {row:0,col:2,descent:d13,tails:[t13_2048,t13_4096,t13_8192,t13_16384],unit:100,yMin:-6.73,yMax:-0.382},
  {row:1,col:0,descent:d21,tails:[t21_2048,t21_4096,t21_8192,t21_16384],unit:10, yMin:-7.56,yMax:-0.2},
  {row:1,col:1,descent:d22,tails:[t22_2048,t22_4096,t22_8192,t22_16384],unit:10, yMin:-6.97,yMax:-0.245},
  {row:1,col:2,descent:d23,tails:[t23_2048,t23_4096,t23_8192,t23_16384],unit:100,yMin:-6.68,yMax:-0.267},
  {row:2,col:0,descent:d31,tails:[t31_2048,t31_4096,t31_8192,t31_16384],unit:10, yMin:-7.26,yMax:-0.07},
  {row:2,col:1,descent:d32,tails:[t32_2048,t32_4096,t32_8192,t32_16384],unit:10, yMin:-7.24,yMax:-0.07},
  {row:2,col:2,descent:d33,tails:[t33_2048,t33_4096,t33_8192,t33_16384],unit:100,yMin:-6.48,yMax:-0.12}
];

// ---------------- layout & style ----------------
const FONT = 'DejaVu Sans';
const gridLeft = [220, 874, 1528], gridTop = [124, 610, 1096], gridW = 505, gridH = 342;
const colors = ['#a6d5ec', '#5b9bd6', '#2767b0', '#08306b'];
const widths = [3.2, 3.5, 3.9, 4.9];
const majorGrid = {show:true, lineStyle:{color:'#dedede', width:1, type:[4,3]}};
const minorGrid = {show:true, lineStyle:{color:'#ececec', width:0.8, type:[3,3]}};
const tickColor = '#555';
const labelColor = '#555';

const grid = [], xAxis = [], yAxis = [], series = [];
panels.forEach((p, k) => {
  grid.push({left:gridLeft[p.col], top:gridTop[p.row], width:gridW, height:gridH, show:true,
    borderColor:'#cccccc', borderWidth:1.6, backgroundColor:'rgba(0,0,0,0)'});
  xAxis.push({gridIndex:k, type:'value', min:-10, max:210,
    axisLine:{show:false},
    axisTick:{show:true, customValues:iterationTicks, length:6, lineStyle:{color:tickColor, width:1.2}},
    axisLabel:{customValues:iterationTicks, color:labelColor, fontSize:17, fontFamily:FONT, margin:19},
    splitLine:majorGrid,
    name: p.row === 2 ? 'Iteration' : '', nameLocation:'middle', nameGap:41,
    nameTextStyle:{fontSize:21, color:'#333', fontFamily:FONT}});
  const majors = [], minors = [];
  for (let n = Math.floor(p.yMin); n <= Math.ceil(p.yMax); n++) {
    if (n >= p.yMin && n <= p.yMax) majors.push(n);
    for (let m = 2; m <= 9; m++) { const v = n + Math.log10(m); if (v > p.yMin && v < p.yMax) minors.push(v); }
  }
  yAxis.push({gridIndex:k, type:'value', min:p.yMin, max:p.yMax, position:'left',
    axisLine:{show:false},
    axisTick:{show:true, customValues:majors, length:6, lineStyle:{color:tickColor, width:1.3}},
    axisLabel:{customValues:majors, margin:12, padding:[8,0,0,0],
      formatter: v => '{b|10}{s|\u2212' + Math.round(-v) + '}',
      rich:{b:{fontSize:17, color:labelColor, fontFamily:FONT, lineHeight:24, verticalAlign:'middle'},
            s:{fontSize:12, color:labelColor, fontFamily:FONT, lineHeight:14, verticalAlign:'top'}}},
    splitLine:majorGrid,
    name: p.col === 0 ? '{r||\u2207}{i|f}{r||}' : '', nameLocation:'middle', nameGap:66, nameRotate:90,
    nameTextStyle:{rich:{r:{fontSize:20, color:'#333', fontFamily:FONT}, i:{fontSize:20, color:'#333', fontFamily:FONT, fontStyle:'italic'}}}});
  yAxis.push({gridIndex:k, type:'value', min:p.yMin, max:p.yMax, position:'left',
    axisLine:{show:false},
    axisTick:{show:true, customValues:minors, length:3, lineStyle:{color:tickColor, width:1}},
    axisLabel:{show:false}, splitLine:minorGrid});
  p.tails.forEach((tail, s) => {
    const data = p.descent.map((v, i) => [i, v / 100])
      .concat(tail.map((v, j) => [p.descent.length + j, v / p.unit]));
    series.push({type:'line', name:shotLabels[s], xAxisIndex:k, yAxisIndex:2 * k, data,
      symbol:'none', showSymbol:false, silent:true, clip:true, z:2 + s,
      lineStyle:{color:colors[s], width:widths[s], opacity:0.9, join:'round', cap:'round'},
      itemStyle:{color:colors[s]}});
  });
});

const titleRich = {i:{fontSize:21, fontStyle:'italic', fontWeight:'normal', color:'#222', fontFamily:FONT, lineHeight:26},
                   sub:{fontSize:15, fontStyle:'italic', fontWeight:'normal', color:'#222', fontFamily:FONT, lineHeight:14, verticalAlign:'bottom'},
                   r:{fontSize:21, fontWeight:'normal', color:'#222', fontFamily:FONT, lineHeight:26}};
const title = nuLabels.map((nu, c) => ({text:'{i|n}{sub|u}{r| = ' + nu + '}', left:gridLeft[c] + gridW / 2, top:92,
  textAlign:'center', padding:0, textStyle:{fontWeight:'normal', rich:titleRich}}));

const rowRich = {i:{fontSize:23, fontStyle:'italic', color:'#222', fontFamily:FONT, lineHeight:28},
                 sub:{fontSize:16, fontStyle:'italic', color:'#222', fontFamily:FONT, lineHeight:16, verticalAlign:'bottom'},
                 r:{fontSize:23, color:'#222', fontFamily:FONT, lineHeight:28}};
const graphic = nxLabels.map((nx, r) => ({type:'text', x:29, y:gridTop[r] + gridH / 2 + 4, rotation:Math.PI / 2,
  style:{text:'{i|n}{sub|x}{r| = ' + nx + '}', rich:rowRich, align:'center', verticalAlign:'middle'}}));
graphic.push({type:'rect', z:100, shape:{x:1810, y:15, width:210, height:158, r:5},
  style:{fill:'rgba(248,248,248,0.85)', stroke:'#d0d0d0', lineWidth:1.5}});
graphic.push({type:'text', z:101, x:1915, y:34, style:{text:'Shot count', fontSize:19, fontFamily:FONT, fill:'#222', align:'center', verticalAlign:'middle'}});

const chart = echarts.init(document.getElementById('chart'), null, {renderer:'canvas'});
chart.setOption({
  animation:false, backgroundColor:'#ffffff',
  title, grid, xAxis, yAxis, series, graphic,
  legend:{data:shotLabels.map((n, s) => ({name:n, icon:'path://M0,0H51V' + (widths[s] + 1) + 'H0Z'})),
    orient:'vertical', left:1816, top:53, z:102, padding:0, selectedMode:false, symbolKeepAspect:true,
    itemWidth:51, itemHeight:22, itemGap:8.7,
    textStyle:{fontSize:21, color:'#1a1a1a', fontFamily:FONT, lineHeight:22, padding:[0,0,0,10]}}
});
</script></body></html>
